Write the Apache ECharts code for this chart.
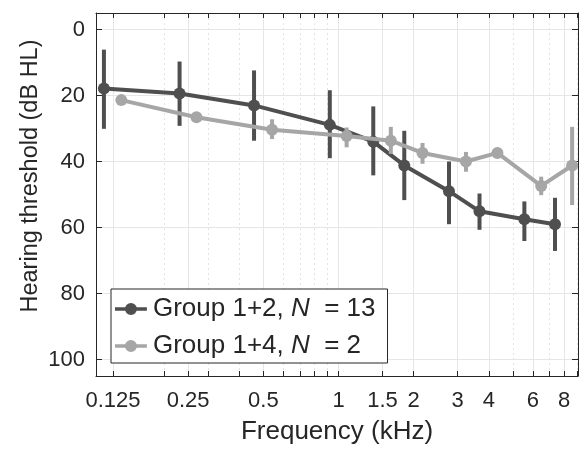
<!DOCTYPE html>
<html>
<head>
<meta charset="utf-8">
<script src="https://cdn.jsdelivr.net/npm/echarts@6/dist/echarts.min.js"></script>
<style>html,body{margin:0;padding:0;background:#fff}#c{width:582px;height:450px}</style>
</head>
<body>
<div id="c"></div>
<script>
// ---- data ----
const freq12 = [0.115, 0.231, 0.459, 0.923, 1.378, 1.834, 2.77, 3.67, 5.55, 7.36];
const mean12 = [17.9, 19.4, 23.0, 28.9, 34.0, 41.2, 49.0, 55.1, 57.5, 59.0];
const low12  = [6.1, 9.7, 12.4, 18.4, 23.3, 30.7, 40.0, 49.7, 52.1, 51.0];
const high12 = [30.1, 29.2, 33.7, 39.0, 44.2, 51.7, 59.0, 60.7, 64.1, 67.1];

const freq14 = [0.135, 0.27, 0.542, 1.078, 1.62, 2.17, 3.24, 4.33, 6.48, 8.62];
const mean14 = [21.4, 26.6, 30.4, 32.3, 33.7, 37.4, 40.0, 37.4, 47.4, 41.2];
const low14  = [21.4, 26.6, 27.2, 29.7, 29.5, 34.4, 37.1, 37.4, 44.6, 29.5];
const high14 = [21.4, 26.6, 33.2, 35.7, 37.7, 40.7, 43.1, 37.4, 50.2, 53.2];

const xMajorTicks = [0.125, 0.25, 0.5, 1, 1.5, 2, 3, 4, 6, 8];
const xMinorTicks = [0.2, 0.3, 0.4, 0.6, 0.7, 0.8, 0.9, 5, 7, 9];
const yTicks = [0, 20, 40, 60, 80, 100];

const name12 = 'Group 1+2';
const name14 = 'Group 1+4';
const n12 = 13, n14 = 2;
const xTitle = 'Frequency (kHz)';
const yTitle = 'Hearing threshold (dB HL)';

// ---- styling ----
const C12 = '#4f4f4f', C14 = '#a6a6a6', TXT = '#262626', AX = '#262626';
const FONT = 'Liberation Sans, Arial, Helvetica, sans-serif';
const XMIN = 0.1069, XMAX = 9.1;
const LEG_ICON = 'path://M0,4.2H34V7.8H0Z M10.6,6A6.4,6.4 0 1,1 23.4,6A6.4,6.4 0 1,1 10.6,6Z';

const chart = echarts.init(document.getElementById('c'), null, {renderer: 'canvas'});

function pts(f, m) { return f.map((v, i) => [v, m[i]]); }
function errs(f, lo, hi) { return f.map((v, i) => [v, lo[i], hi[i]]); }

function errItem(color) {
  return function (params, api) {
    const p1 = api.coord([api.value(0), api.value(1)]);
    const p2 = api.coord([api.value(0), api.value(2)]);
    return {
      type: 'line',
      shape: {x1: p1[0], y1: p1[1], x2: p2[0], y2: p2[1]},
      style: {stroke: color, lineWidth: 4}
    };
  };
}

const allTicks = xMajorTicks.concat(xMinorTicks).sort((a, b) => a - b);

const baseX = {
  type: 'log', logBase: 2, min: XMIN, max: XMAX, gridIndex: 0
};

const option = {
  animation: false,
  backgroundColor: '#fff',
  textStyle: {fontFamily: FONT},
  grid: {left: 96, top: 13, right: 4, bottom: 70, containLabel: false},
  graphic: [{
    type: 'text', x: 31, y: 176, rotation: Math.PI / 2,
    style: {text: yTitle, fill: TXT, font: '23.5px ' + FONT, align: 'center', verticalAlign: 'middle'}
  }],
  xAxis: [
    Object.assign({}, baseX, {
      position: 'bottom',
      name: xTitle, nameLocation: 'middle', nameGap: 43,
      nameTextStyle: {fontFamily: FONT, fontSize: 26, color: TXT},
      axisLine: {show: true, onZero: false, lineStyle: {color: AX, width: 1}},
      axisTick: {show: true, inside: true, length: 5, customValues: xMajorTicks, lineStyle: {color: AX}},
      axisLabel: {show: true, customValues: xMajorTicks, fontFamily: FONT, fontSize: 22, color: TXT, margin: 14,
        formatter: v => String(v)},
      splitLine: {show: true, lineStyle: {color: '#e6e6e6', width: 1}}
    }),
    Object.assign({}, baseX, {
      position: 'bottom',
      axisLine: {show: false, onZero: false},
      axisTick: {show: true, inside: true, length: 5, customValues: xMinorTicks, lineStyle: {color: AX}},
      axisLabel: {show: false, customValues: xMinorTicks},
      splitLine: {show: true, lineStyle: {color: '#e3e3e3', width: 1, type: [2, 3]}}
    }),
    Object.assign({}, baseX, {
      position: 'top',
      axisLine: {show: true, onZero: false, lineStyle: {color: AX, width: 1}},
      axisTick: {show: true, inside: true, length: 5, customValues: allTicks, lineStyle: {color: AX}},
      axisLabel: {show: false, customValues: allTicks},
      splitLine: {show: false}
    })
  ],
  yAxis: [
    {
      type: 'value', inverse: true, min: -5, max: 105, position: 'left',
      axisLine: {show: true, onZero: false, lineStyle: {color: AX, width: 1}},
      axisTick: {show: true, inside: true, length: 6, customValues: yTicks, lineStyle: {color: AX}},
      axisLabel: {show: true, customValues: yTicks, fontFamily: FONT, fontSize: 22, color: TXT, margin: 11},
      splitLine: {show: true, lineStyle: {color: '#e6e6e6', width: 1}}
    },
    {
      type: 'value', inverse: true, min: -5, max: 105, position: 'right',
      axisLine: {show: true, onZero: false, lineStyle: {color: AX, width: 1}},
      axisTick: {show: true, inside: true, length: 6, customValues: yTicks, lineStyle: {color: AX}},
      axisLabel: {show: false, customValues: yTicks},
      splitLine: {show: false}
    }
  ],
  legend: {
    orient: 'vertical', left: 111, top: 289,
    data: [
      {name: name12, icon: LEG_ICON, itemStyle: {color: C12}},
      {name: name14, icon: LEG_ICON, itemStyle: {color: C14}}
    ],
    backgroundColor: '#fff', borderColor: AX, borderWidth: 1, borderRadius: 0,
    padding: [6, 12, 3, 4], itemGap: 9, itemWidth: 34, itemHeight: 12,
    formatter: function (name) {
      const n = name === name12 ? n12 : n14;
      return '{t|' + name + ', }{i|N}{t|  = ' + n + '}';
    },
    textStyle: {
      fontFamily: FONT, fontSize: 26, color: TXT, lineHeight: 28,
      rich: {
        t: {fontFamily: FONT, fontSize: 26, color: TXT, lineHeight: 28},
        i: {fontFamily: FONT, fontSize: 26, color: TXT, fontStyle: 'italic', lineHeight: 28}
      }
    }
  },
  series: [
    {
      name: name12 + ' err', type: 'custom', xAxisIndex: 0, yAxisIndex: 0,
      data: errs(freq12, low12, high12), encode: {x: 0, y: [1, 2]},
      renderItem: errItem(C12), z: 2, silent: true
    },
    {
      name: name12, type: 'line', xAxisIndex: 0, yAxisIndex: 0,
      data: pts(freq12, mean12), symbol: 'circle', symbolSize: 12,
      lineStyle: {color: C12, width: 4}, itemStyle: {color: C12}, z: 3
    },
    {
      name: name14 + ' err', type: 'custom', xAxisIndex: 0, yAxisIndex: 0,
      data: errs(freq14, low14, high14), encode: {x: 0, y: [1, 2]},
      renderItem: errItem(C14), z: 4, silent: true
    },
    {
      name: name14, type: 'line', xAxisIndex: 0, yAxisIndex: 0,
      data: pts(freq14, mean14), symbol: 'circle', symbolSize: 12,
      lineStyle: {color: C14, width: 4}, itemStyle: {color: C14}, z: 5
    }
  ]
};
chart.setOption(option);
</script>
</body>
</html>
